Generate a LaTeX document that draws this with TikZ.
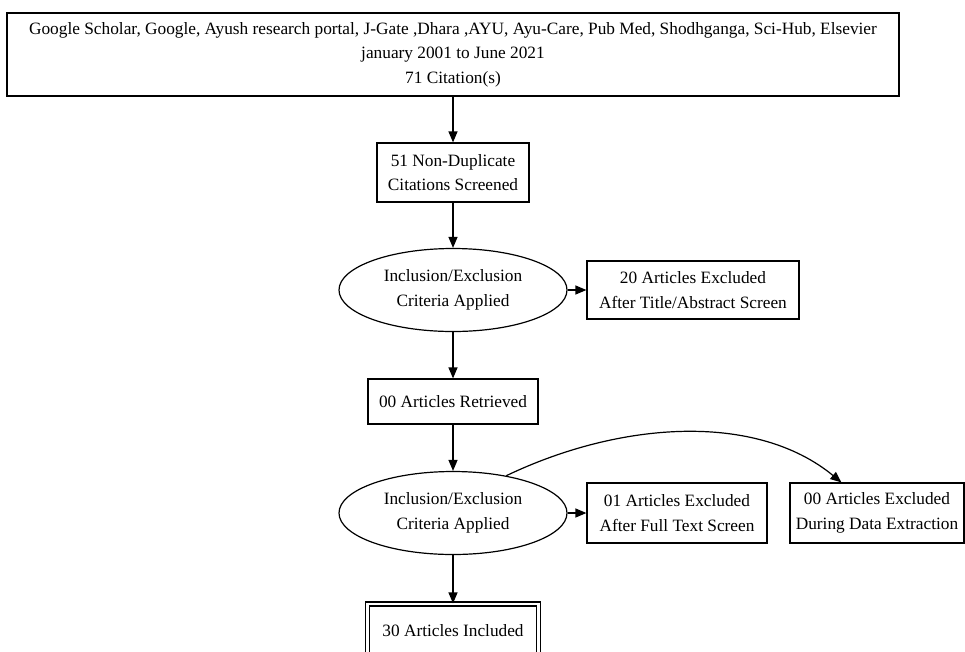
\documentclass[tikz,border=0pt]{standalone}
\usepackage{fontspec}
\setmainfont{Liberation Serif}
\usetikzlibrary{shapes.geometric}
\usetikzlibrary{arrows.meta}
\tikzset{
box/.style={
  draw, rectangle,
  line width=1.2pt,
  align=center,
  inner sep=0pt,
  font=\fontsize{17.3}{24.5}\selectfont
},
crit/.style={box, ellipse, minimum width=228pt, minimum height=83pt},
final/.style={box, double, double distance=2.8pt},
flow/.style={line width=1.2pt, -{Triangle[length=11pt,width=9pt]}},
}

\begin{document}
\begin{tikzpicture}[x=1pt,y=-1pt]
\useasboundingbox (0,0) rectangle (965,651);
\clip (0,0) rectangle (965,651);
% the boxes
\node[box, minimum width=892pt, minimum height=83pt] (src) at (453,54.5)
  {Google Scholar, Google, Ayush research portal, J-Gate ,Dhara ,AYU, Ayu-Care, Pub Med, Shodhganga, Sci-Hub, Elsevier\\
   january 2001 to June 2021\\
   71 Citation(s)};
\node[box, minimum width=152pt, minimum height=59pt] (dedup) at (453,172.5)
  {51 Non-Duplicate\\Citations Screened};
\node[crit] (incl1) at (453,290) {Inclusion/Exclusion\\Criteria Applied};
\node[box, minimum width=212pt, minimum height=58pt] (excl1) at (693,290)
  {20 Articles Excluded\\After Title/Abstract Screen};
\node[box, minimum width=170pt, minimum height=45pt] (retr) at (453,401.5)
  {00 Articles Retrieved};
\node[crit] (incl2) at (453,513) {Inclusion/Exclusion\\Criteria Applied};
\node[box, minimum width=180pt, minimum height=60pt] (excl2) at (677,513)
  {01 Articles Excluded\\After Full Text Screen};
\node[box, minimum width=174pt, minimum height=60pt] (excl3) at (877,513)
  {00 Articles Excluded\\During Data Extraction};
\node[final, minimum width=171pt, minimum height=54pt] (incl) at (453,631)
  {30 Articles Included};
% the arrows
\draw[flow] (src) -- (dedup);
\draw[flow] (dedup) -- (incl1);
\draw[flow] (incl1) -- (excl1);
\draw[flow] (incl1) -- (retr);
\draw[flow] (retr) -- (incl2);
\draw[flow] (incl2) -- (excl2);
\draw[flow] (incl2.35) .. controls +(115,-55) and +(-85,-70) .. ([xshift=52pt]excl3.north west);
\draw[flow] (incl2) -- (incl);
\end{tikzpicture}
\end{document}
